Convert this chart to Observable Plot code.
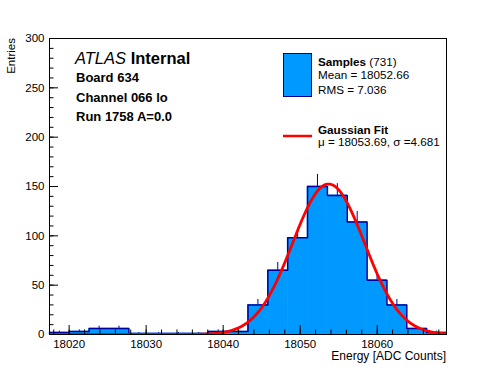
<!DOCTYPE html>
<html><head><meta charset="utf-8">
<script src="https://cdn.jsdelivr.net/npm/d3@7"></script>
<script src="https://cdn.jsdelivr.net/npm/@observablehq/plot@0.6"></script>
<style>
html,body{margin:0;padding:0;background:#fff;}
#chart{position:relative;width:496px;height:372px;}
svg{font-family:"Liberation Sans",Arial,Helvetica,sans-serif;}
</style></head><body><div id="chart"></div>
<script>
// ---- data ----
const histRange = [18017.45, 18069.0];
const binCounts = [2, 3, 6, 6, 1, 1, 1, 1, 3, 3, 30, 65, 98, 150, 141, 114, 55, 30, 6, 2];
const fitMu = 18053.69;
const fitSigma = 4.681;
const fitAmplitude = 152.5;
const xTickLabels = [18020, 18030, 18040, 18050, 18060];
const yTickLabels = [0, 50, 100, 150, 200, 250, 300];
const yDomain = [0, 300];
const sampleCount = 731;
const sampleMean = "18052.66";
const sampleRMS = "7.036";
const headerLines = ["Board 634", "Channel 066 lo", "Run 1758 A=0.0"];

// ---- derived ----
const binWidth = (histRange[1] - histRange[0]) / binCounts.length;
const bins = binCounts.map((c, i) => ({
  x1: histRange[0] + i * binWidth,
  x2: histRange[0] + (i + 1) * binWidth,
  xc: histRange[0] + (i + 0.5) * binWidth,
  count: c,
  err: Math.sqrt(c)
}));
const outline = bins.map(b => ({x: b.x1, y: b.count}))
  .concat([{x: bins[bins.length - 1].x2, y: bins[bins.length - 1].count}]);
const fitCurve = d3.range(0, 601).map(i => {
  const x = histRange[0] + i * (histRange[1] - histRange[0]) / 600;
  return {x, y: fitAmplitude * Math.exp(-((x - fitMu) ** 2) / (2 * fitSigma ** 2))};
});
const xMinor = d3.range(18018, 18069, 2);
const yMinor = d3.range(0, 301, 10);

const W = 496, H = 372, mL = 49, mR = 50, mT = 38, mB = 38;
const innerW = W - mL - mR, innerH = H - mT - mB;
const FILL = "#0099ff", EDGE = "#000099", RED = "#ff0000";

const plot = Plot.plot({
  width: W, height: H,
  marginLeft: mL, marginRight: mR, marginTop: mT, marginBottom: mB,
  style: {fontFamily: '"Liberation Sans", Arial, Helvetica, sans-serif', fontSize: "11.5px", background: "#fff", color: "#000"},
  x: {domain: histRange},
  y: {domain: yDomain},
  marks: [
    Plot.ruleX(bins, {x: "xc", y1: d => d.count - d.err, y2: d => d.count + d.err, stroke: EDGE, strokeWidth: 1, clip: true}),
    Plot.rectY(bins, {x1: "x1", x2: "x2", y1: 0, y2: "count", fill: FILL, stroke: FILL, strokeWidth: 0.6}),
    Plot.line(outline, {x: "x", y: "y", curve: "step-after", stroke: EDGE, strokeWidth: 1.5, clip: true}),
    Plot.line(fitCurve, {x: "x", y: "y", stroke: RED, strokeWidth: 2.8, clip: true}),
    Plot.frame({stroke: "#000", strokeWidth: 1}),
    Plot.ruleX(xMinor, {x: d => d, insetTop: innerH - 4.5, stroke: "#000"}),
    Plot.ruleX(xTickLabels, {x: d => d, insetTop: innerH - 9, stroke: "#000"}),
    Plot.ruleY(yMinor, {y: d => d, insetRight: innerW - 4.5, stroke: "#000"}),
    Plot.ruleY(yTickLabels, {y: d => d, insetRight: innerW - 9, stroke: "#000"}),
    Plot.axisX(xTickLabels, {tickSize: 0, tickPadding: 5, label: null, tickFormat: d => String(d)}),
    Plot.axisY(yTickLabels, {tickSize: 0, tickPadding: 5, label: null, tickFormat: d => String(d)})
  ]
});
document.getElementById("chart").appendChild(plot);

// ---- annotations ----
const svg = d3.select(plot);
const g = svg.append("g")
  .attr("font-family", '"Liberation Sans", Arial, Helvetica, sans-serif')
  .attr("fill", "#000").attr("text-anchor", "start");

// axis titles
g.append("text").attr("transform", "translate(15,38) rotate(-90)").attr("text-anchor", "end")
  .attr("font-size", 11.5).text("Entries");
g.append("text").attr("x", 446).attr("y", 360).attr("text-anchor", "end")
  .attr("font-size", 12).text("Energy [ADC Counts]");

// header
const t1 = g.append("text").attr("x", 75).attr("y", 64).attr("font-size", 16.5);
t1.append("tspan").attr("font-style", "italic").text("ATLAS");
t1.append("tspan").attr("font-weight", "bold").text(" Internal");
const headerY = [81.7, 101.5, 121];
headerLines.forEach((s, i) => {
  g.append("text").attr("x", 76).attr("y", headerY[i]).attr("font-size", 13)
    .attr("font-weight", "bold").text(s);
});

// legend
g.append("rect").attr("x", 283.5).attr("y", 53.5).attr("width", 28).attr("height", 43)
  .attr("fill", FILL).attr("stroke", EDGE).attr("stroke-width", 1);
const l1 = g.append("text").attr("x", 318).attr("y", 66).attr("font-size", 11.7);
l1.append("tspan").attr("font-weight", "bold").text("Samples");
l1.append("tspan").text(` (${sampleCount})`);
g.append("text").attr("x", 318).attr("y", 78.5).attr("font-size", 11.7).text(`Mean = ${sampleMean}`);
g.append("text").attr("x", 318).attr("y", 94).attr("font-size", 11.7).text(`RMS = ${sampleRMS}`);

g.append("line").attr("x1", 283).attr("x2", 312).attr("y1", 136).attr("y2", 136)
  .attr("stroke", RED).attr("stroke-width", 2.5);
g.append("text").attr("x", 318).attr("y", 134).attr("font-size", 11.7).attr("font-weight", "bold").text("Gaussian Fit");
g.append("text").attr("x", 318).attr("y", 146).attr("font-size", 11.7)
  .text(`\u03bc = ${fitMu.toFixed(2)}, \u03c3 =${fitSigma.toFixed(3)}`);
</script>
</body></html>
